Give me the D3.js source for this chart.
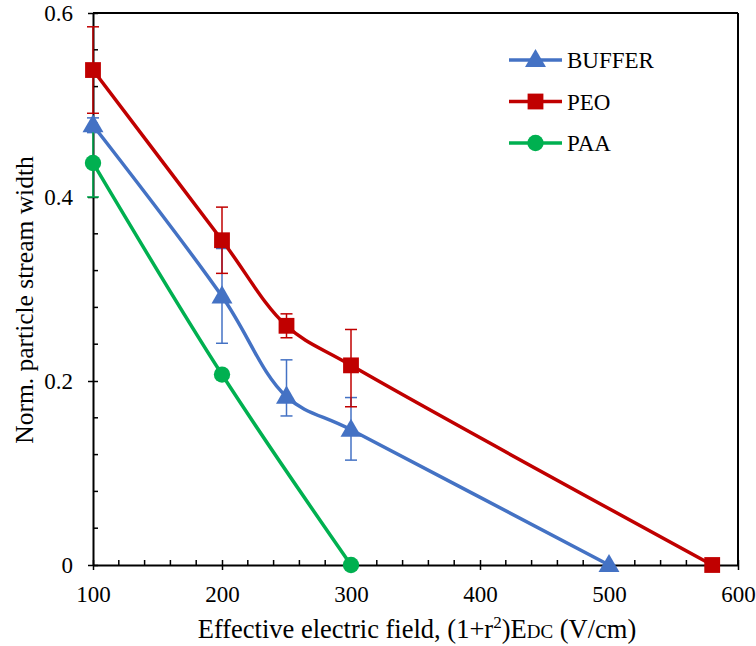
<!DOCTYPE html>
<html>
<head>
<meta charset="UTF-8">
<script src="https://d3js.org/d3.v7.min.js"></script>
<style>
  body { margin: 0; background: #fff; }
  text { font-family: "Liberation Serif", "Times New Roman", serif; fill: #000; }
</style>
</head>
<body>
<svg id="vis" width="756" height="646"></svg>
<script>
// data
var fieldBuffer = [100, 200, 250, 300, 500];
var widthBuffer = [0.478, 0.292, 0.183, 0.147, 0];
var errUpBuffer = [0.008, 0.052, 0.040, 0.035, 0];
var errDnBuffer = [0.008, 0.051, 0.021, 0.033, 0];

var fieldPeo = [100, 200, 250, 300, 580];
var widthPeo = [0.538, 0.353, 0.260, 0.217, 0];
var errUpPeo = [0.047, 0.036, 0.013, 0.039, 0];
var errDnPeo = [0.047, 0.036, 0.013, 0.045, 0];

var fieldPaa = [100, 200, 300];
var widthPaa = [0.437, 0.207, 0];
var errUpPaa = [0.037, 0, 0];
var errDnPaa = [0.037, 0, 0];

var seriesNames = ["BUFFER", "PEO", "PAA"];
var seriesColors = ["#4472C4", "#C00000", "#00B050"];
var seriesSymbols = [d3.symbolTriangle, d3.symbolSquare, d3.symbolCircle];

var xTicks = [100, 200, 300, 400, 500, 600];
var yTicks = [0, 0.2, 0.4, 0.6];

var series = [
  {x: fieldBuffer, y: widthBuffer, up: errUpBuffer, dn: errDnBuffer},
  {x: fieldPeo, y: widthPeo, up: errUpPeo, dn: errDnPeo},
  {x: fieldPaa, y: widthPaa, up: errUpPaa, dn: errDnPaa}
];

var svg = d3.select("#vis");
var pLeft = 93, pRight = 738, pTop = 13, pBottom = 565;

var x = d3.scaleLinear().domain([100, 600]).range([pLeft, pRight]);
var y = d3.scaleLinear().domain([0, 0.6]).range([pBottom, pTop]);

// frame top / right
svg.append("line").attr("x1", pLeft).attr("x2", pRight).attr("y1", pTop).attr("y2", pTop)
  .attr("stroke", "#000").attr("stroke-width", 2);
svg.append("line").attr("x1", pRight).attr("x2", pRight).attr("y1", pTop).attr("y2", pBottom)
  .attr("stroke", "#000").attr("stroke-width", 2);

// minor ticks (inside)
var gMinor = svg.append("g");
d3.range(120, 600, 20).forEach(function (v) {
  if (v % 100 == 0) return;
  gMinor.append("line").attr("x1", x(v)).attr("x2", x(v)).attr("y1", pBottom).attr("y2", pBottom - 5)
    .attr("stroke", "#000").attr("stroke-width", 1.5);
});
d3.range(0.04, 0.6, 0.04).forEach(function (v) {
  if (Math.abs(v / 0.2 - Math.round(v / 0.2)) < 1e-6) return;
  gMinor.append("line").attr("x1", pLeft).attr("x2", pLeft + 5).attr("y1", y(v)).attr("y2", y(v))
    .attr("stroke", "#000").attr("stroke-width", 1.5);
});

// axes
var xAxis = d3.axisBottom(x).tickValues(xTicks).tickSizeInner(5).tickSizeOuter(0).tickPadding(16);
var gx = svg.append("g").attr("transform", "translate(0," + pBottom + ")").call(xAxis);
var yAxis = d3.axisLeft(y).tickValues(yTicks).tickFormat(function (d) { return d === 0 ? "0" : d3.format(".1f")(d); })
  .tickSizeInner(5).tickSizeOuter(0).tickPadding(15);
var gy = svg.append("g").attr("transform", "translate(" + pLeft + ",0)").call(yAxis);

[gx, gy].forEach(function (g) {
  g.attr("font-family", "Liberation Serif").attr("font-size", 23);
  g.select(".domain").attr("stroke", "#000").attr("stroke-width", 2);
  g.selectAll(".tick line").attr("stroke", "#000").attr("stroke-width", 1.5);
  g.selectAll(".tick text").attr("fill", "#000").style("font-size", "23px");
});
// major ticks cross the axis
gx.selectAll(".tick line").attr("y1", -5).attr("y2", 5);
gy.selectAll(".tick line").attr("x1", -5).attr("x2", 5);

// axis titles
var xt = svg.append("text").attr("x", 417).attr("y", 638).attr("text-anchor", "middle").attr("font-size", 26.5);
xt.append("tspan").text("Effective electric field, (1+r");
xt.append("tspan").attr("font-size", 17).attr("dy", -10).text("2");
xt.append("tspan").attr("dy", 10).text(")E");
xt.append("tspan").attr("font-size", 19).text("DC");
xt.append("tspan").text(" (V/cm)");

svg.append("text").attr("transform", "translate(33,300) rotate(-90)")
  .attr("text-anchor", "middle").attr("font-size", 25.5).text("Norm. particle stream width");

// error bars
series.forEach(function (s, k) {
  var g = svg.append("g").attr("stroke", seriesColors[k]).attr("stroke-width", 1.5);
  s.x.forEach(function (xv, i) {
    if (s.up[i] === 0 && s.dn[i] === 0) return;
    var yt = y(s.y[i] + s.up[i]), yb = y(s.y[i] - s.dn[i]), cx = x(xv);
    g.append("line").attr("x1", cx).attr("x2", cx).attr("y1", yt).attr("y2", yb);
    g.append("line").attr("x1", cx - 6).attr("x2", cx + 6).attr("y1", yt).attr("y2", yt);
    g.append("line").attr("x1", cx - 6).attr("x2", cx + 6).attr("y1", yb).attr("y2", yb);
  });
});

// lines and markers
var line = d3.line().curve(d3.curveCatmullRom.alpha(0.5));
series.forEach(function (s, k) {
  var pts = s.x.map(function (xv, i) { return [x(xv), y(s.y[i])]; });
  svg.append("path").attr("d", line(pts)).attr("fill", "none")
    .attr("stroke", seriesColors[k]).attr("stroke-width", 3.5);
});
var symSizes = [190, 250, 210];
series.forEach(function (s, k) {
  var sym = d3.symbol().type(seriesSymbols[k]).size(symSizes[k]);
  s.x.forEach(function (xv, i) {
    svg.append("path").attr("d", sym())
      .attr("transform", "translate(" + x(xv) + "," + (y(s.y[i]) + (k == 0 ? 1 : 0)) + ")")
      .attr("fill", seriesColors[k]);
  });
});

// legend
var legend = svg.append("g");
seriesNames.forEach(function (name, k) {
  var ly = 60 + k * 41.5;
  legend.append("line").attr("x1", 509).attr("x2", 562).attr("y1", ly).attr("y2", ly)
    .attr("stroke", seriesColors[k]).attr("stroke-width", 3.5);
  legend.append("path").attr("d", d3.symbol().type(seriesSymbols[k]).size(symSizes[k])())
    .attr("transform", "translate(535.5," + (ly + (k == 0 ? 1 : 0)) + ")").attr("fill", seriesColors[k]);
  legend.append("text").attr("x", 567).attr("y", ly + 8).attr("font-size", 23).text(name);
});
</script>
</body>
</html>
